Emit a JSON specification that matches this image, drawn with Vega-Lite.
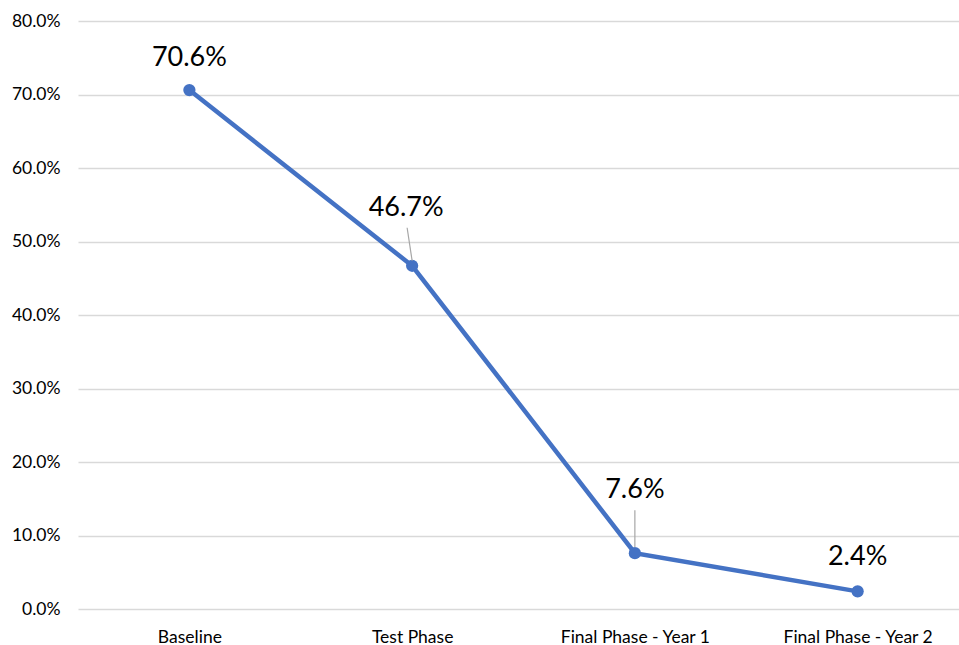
{
  "$schema": "https://vega.github.io/schema/vega-lite/v6.json",
  "width": 891,
  "height": 588,
  "autosize": {"type": "none"},
  "padding": {"left": 78, "top": 21, "right": 0, "bottom": 36},
  "background": "white",
  "config": {
    "view": {"stroke": null},
    "font": "Lato",
    "axis": {"labelFont": "Lato", "labelColor": "#000000", "labelFontSize": 17.5, "domain": false, "ticks": false, "labelOverlap": false}
  },
  "data": {
    "values": [
      {"phase": "Baseline", "value": 0.706},
      {"phase": "Test Phase", "value": 0.467},
      {"phase": "Final Phase - Year 1", "value": 0.076},
      {"phase": "Final Phase - Year 2", "value": 0.024}
    ]
  },
  "encoding": {
    "x": {
      "field": "phase", "type": "nominal", "sort": null,
      "scale": {"type": "point", "padding": 0.5},
      "axis": {"title": null, "labelAngle": 0, "labelPadding": 19, "grid": false}
    },
    "y": {
      "field": "value", "type": "quantitative",
      "scale": {"domain": [0, 0.8], "nice": false},
      "axis": {"title": null, "format": ".1%", "values": [0,0.1,0.2,0.3,0.4,0.5,0.6,0.7,0.8], "labelPadding": 18, "grid": true, "gridColor": "#d9d9d9", "gridWidth": 1.5}
    }
  },
  "layer": [
    {"mark": {"type": "line", "color": "#4472C4", "strokeWidth": 4.5}},
    {"mark": {"type": "point", "filled": true, "opacity": 1, "color": "#4472C4", "size": 150}},
    {
      "transform": [{"filter": "datum.phase === 'Test Phase'"}],
      "mark": {"type": "rule", "color": "#a6a6a6", "strokeWidth": 1.2, "yOffset": -5, "y2Offset": -38, "x2Offset": -5},
      "encoding": {"x2": {"field": "phase"}, "y2": {"field": "value"}}
    },
    {
      "transform": [{"filter": "datum.phase === 'Final Phase - Year 1'"}],
      "mark": {"type": "rule", "color": "#a6a6a6", "strokeWidth": 1.2, "yOffset": -6, "y2Offset": -43},
      "encoding": {"y2": {"field": "value"}}
    },
    {
      "transform": [{"filter": "datum.phase === 'Baseline'"}],
      "mark": {"type": "text", "fontSize": 27, "dy": -32, "baseline": "middle", "color": "#000000"},
      "encoding": {"text": {"field": "value", "format": ".1%"}}
    },
    {
      "transform": [{"filter": "datum.phase === 'Test Phase'"}],
      "mark": {"type": "text", "fontSize": 27, "dy": -58, "dx": -6, "baseline": "middle", "color": "#000000"},
      "encoding": {"text": {"field": "value", "format": ".1%"}}
    },
    {
      "transform": [{"filter": "datum.phase === 'Final Phase - Year 1'"}],
      "mark": {"type": "text", "fontSize": 27, "dy": -63, "baseline": "middle", "color": "#000000"},
      "encoding": {"text": {"field": "value", "format": ".1%"}}
    },
    {
      "transform": [{"filter": "datum.phase === 'Final Phase - Year 2'"}],
      "mark": {"type": "text", "fontSize": 27, "dy": -34, "baseline": "middle", "color": "#000000"},
      "encoding": {"text": {"field": "value", "format": ".1%"}}
    }
  ]
}
